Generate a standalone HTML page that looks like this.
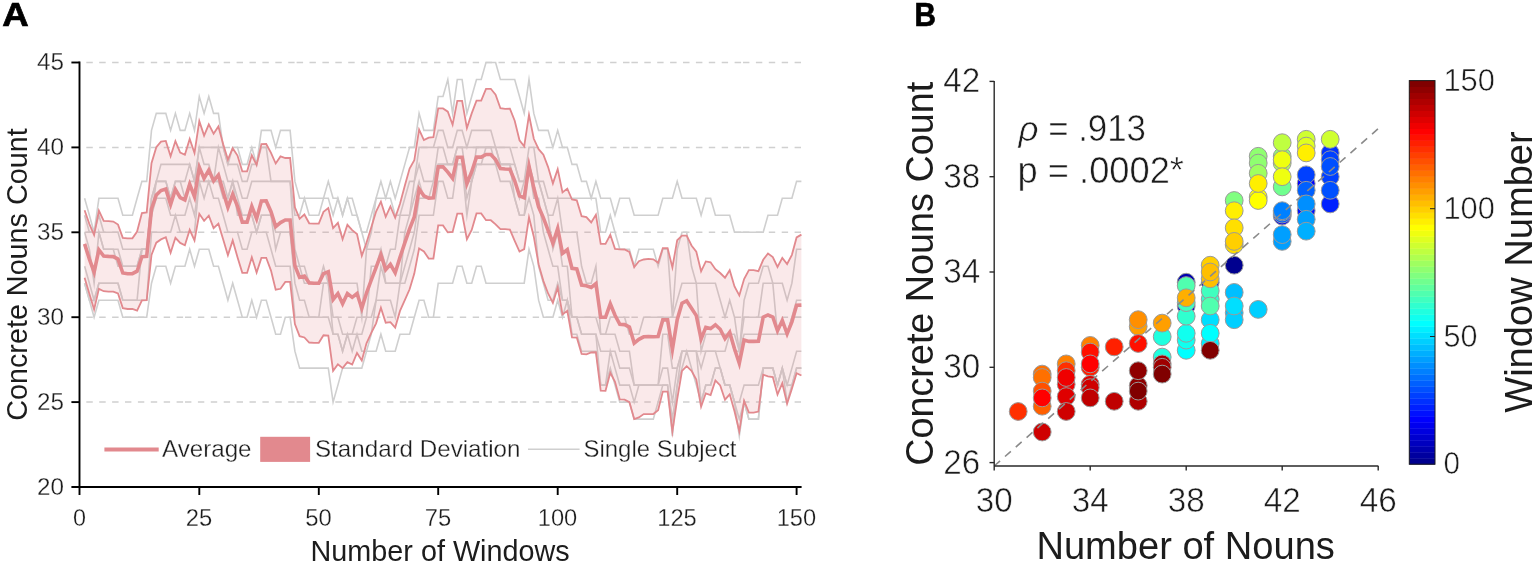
<!DOCTYPE html>
<html lang="en"><head><meta charset="utf-8"><title>Concrete Nouns Count</title>
<style>html,body{margin:0;padding:0;background:#fff}body{width:1534px;height:565px;overflow:hidden}svg{display:block}text{font-family:"Liberation Sans",Arial,sans-serif;fill:#1c1c1c;stroke:#fff;stroke-width:0.55px}.s{stroke-width:0.28px}.l{stroke:none}.b{font-weight:bold;fill:#000;stroke:#000;stroke-width:0.7px}</style>
</head><body>
<svg width="1534" height="565" viewBox="0 0 1534 565">
<rect width="1534" height="565" fill="#fff"/>
<g id="panelA">
<path d="M86.3 62.5H92.8M99.2 62.5H105.7M112.1 62.5H118.6M125 62.5H131.4M137.9 62.5H144.3M150.8 62.5H157.2M163.7 62.5H170.1M176.6 62.5H183.1M185 62.5H191.4M197.9 62.5H204.3M210.8 62.5H217.2M223.7 62.5H230.1M236.6 62.5H243M249.5 62.5H255.9M262.4 62.5H268.8M275.3 62.5H281.8M288.2 62.5H294.6M296.6 62.5H303.1M309.5 62.5H315.9M322.4 62.5H328.9M335.3 62.5H341.8M348.2 62.5H354.7M361.1 62.5H367.6M374 62.5H380.4M386.9 62.5H393.4M399.8 62.5H406.2M408.2 62.5H414.6M421.1 62.5H427.5M434 62.5H440.4M446.9 62.5H453.3M459.8 62.5H466.2M472.7 62.5H479.1M485.6 62.5H492M498.5 62.5H504.9M511.4 62.5H517.8M519.8 62.5H526.2M532.7 62.5H539.1M545.6 62.5H552M558.5 62.5H565M571.4 62.5H577.9M584.3 62.5H590.8M597.2 62.5H603.6M610.1 62.5H616.5M623 62.5H629.5M631.4 62.5H637.9M644.3 62.5H650.8M657.2 62.5H663.6M670.1 62.5H676.6M683 62.5H689.5M695.9 62.5H702.4M708.8 62.5H715.2M721.7 62.5H728.1M734.6 62.5H741.1M743 62.5H749.4M755.9 62.5H762.3M768.8 62.5H775.2M781.7 62.5H788.1M794.6 62.5H801" fill="none" stroke="#d0d0d0" stroke-width="1.5"/>
<path d="M86.3 147.4H92.8M99.2 147.4H105.7M112.1 147.4H118.6M125 147.4H131.4M137.9 147.4H144.3M150.8 147.4H157.2M163.7 147.4H170.1M176.6 147.4H183.1M185 147.4H191.4M197.9 147.4H204.3M210.8 147.4H217.2M223.7 147.4H230.1M236.6 147.4H243M249.5 147.4H255.9M262.4 147.4H268.8M275.3 147.4H281.8M288.2 147.4H294.6M296.6 147.4H303.1M309.5 147.4H315.9M322.4 147.4H328.9M335.3 147.4H341.8M348.2 147.4H354.7M361.1 147.4H367.6M374 147.4H380.4M386.9 147.4H393.4M399.8 147.4H406.2M408.2 147.4H414.6M421.1 147.4H427.5M434 147.4H440.4M446.9 147.4H453.3M459.8 147.4H466.2M472.7 147.4H479.1M485.6 147.4H492M498.5 147.4H504.9M511.4 147.4H517.8M519.8 147.4H526.2M532.7 147.4H539.1M545.6 147.4H552M558.5 147.4H565M571.4 147.4H577.9M584.3 147.4H590.8M597.2 147.4H603.6M610.1 147.4H616.5M623 147.4H629.5M631.4 147.4H637.9M644.3 147.4H650.8M657.2 147.4H663.6M670.1 147.4H676.6M683 147.4H689.5M695.9 147.4H702.4M708.8 147.4H715.2M721.7 147.4H728.1M734.6 147.4H741.1M743 147.4H749.4M755.9 147.4H762.3M768.8 147.4H775.2M781.7 147.4H788.1M794.6 147.4H801" fill="none" stroke="#d0d0d0" stroke-width="1.5"/>
<path d="M86.3 232.3H92.8M99.2 232.3H105.7M112.1 232.3H118.6M125 232.3H131.4M137.9 232.3H144.3M150.8 232.3H157.2M163.7 232.3H170.1M176.6 232.3H183.1M185 232.3H191.4M197.9 232.3H204.3M210.8 232.3H217.2M223.7 232.3H230.1M236.6 232.3H243M249.5 232.3H255.9M262.4 232.3H268.8M275.3 232.3H281.8M288.2 232.3H294.6M296.6 232.3H303.1M309.5 232.3H315.9M322.4 232.3H328.9M335.3 232.3H341.8M348.2 232.3H354.7M361.1 232.3H367.6M374 232.3H380.4M386.9 232.3H393.4M399.8 232.3H406.2M408.2 232.3H414.6M421.1 232.3H427.5M434 232.3H440.4M446.9 232.3H453.3M459.8 232.3H466.2M472.7 232.3H479.1M485.6 232.3H492M498.5 232.3H504.9M511.4 232.3H517.8M519.8 232.3H526.2M532.7 232.3H539.1M545.6 232.3H552M558.5 232.3H565M571.4 232.3H577.9M584.3 232.3H590.8M597.2 232.3H603.6M610.1 232.3H616.5M623 232.3H629.5M631.4 232.3H637.9M644.3 232.3H650.8M657.2 232.3H663.6M670.1 232.3H676.6M683 232.3H689.5M695.9 232.3H702.4M708.8 232.3H715.2M721.7 232.3H728.1M734.6 232.3H741.1M743 232.3H749.4M755.9 232.3H762.3M768.8 232.3H775.2M781.7 232.3H788.1M794.6 232.3H801" fill="none" stroke="#d0d0d0" stroke-width="1.5"/>
<path d="M86.3 317.2H92.8M99.2 317.2H105.7M112.1 317.2H118.6M125 317.2H131.4M137.9 317.2H144.3M150.8 317.2H157.2M163.7 317.2H170.1M176.6 317.2H183.1M185 317.2H191.4M197.9 317.2H204.3M210.8 317.2H217.2M223.7 317.2H230.1M236.6 317.2H243M249.5 317.2H255.9M262.4 317.2H268.8M275.3 317.2H281.8M288.2 317.2H294.6M296.6 317.2H303.1M309.5 317.2H315.9M322.4 317.2H328.9M335.3 317.2H341.8M348.2 317.2H354.7M361.1 317.2H367.6M374 317.2H380.4M386.9 317.2H393.4M399.8 317.2H406.2M408.2 317.2H414.6M421.1 317.2H427.5M434 317.2H440.4M446.9 317.2H453.3M459.8 317.2H466.2M472.7 317.2H479.1M485.6 317.2H492M498.5 317.2H504.9M511.4 317.2H517.8M519.8 317.2H526.2M532.7 317.2H539.1M545.6 317.2H552M558.5 317.2H565M571.4 317.2H577.9M584.3 317.2H590.8M597.2 317.2H603.6M610.1 317.2H616.5M623 317.2H629.5M631.4 317.2H637.9M644.3 317.2H650.8M657.2 317.2H663.6M670.1 317.2H676.6M683 317.2H689.5M695.9 317.2H702.4M708.8 317.2H715.2M721.7 317.2H728.1M734.6 317.2H741.1M743 317.2H749.4M755.9 317.2H762.3M768.8 317.2H775.2M781.7 317.2H788.1M794.6 317.2H801" fill="none" stroke="#d0d0d0" stroke-width="1.5"/>
<path d="M86.3 402.1H92.8M99.2 402.1H105.7M112.1 402.1H118.6M125 402.1H131.4M137.9 402.1H144.3M150.8 402.1H157.2M163.7 402.1H170.1M176.6 402.1H183.1M185 402.1H191.4M197.9 402.1H204.3M210.8 402.1H217.2M223.7 402.1H230.1M236.6 402.1H243M249.5 402.1H255.9M262.4 402.1H268.8M275.3 402.1H281.8M288.2 402.1H294.6M296.6 402.1H303.1M309.5 402.1H315.9M322.4 402.1H328.9M335.3 402.1H341.8M348.2 402.1H354.7M361.1 402.1H367.6M374 402.1H380.4M386.9 402.1H393.4M399.8 402.1H406.2M408.2 402.1H414.6M421.1 402.1H427.5M434 402.1H440.4M446.9 402.1H453.3M459.8 402.1H466.2M472.7 402.1H479.1M485.6 402.1H492M498.5 402.1H504.9M511.4 402.1H517.8M519.8 402.1H526.2M532.7 402.1H539.1M545.6 402.1H552M558.5 402.1H565M571.4 402.1H577.9M584.3 402.1H590.8M597.2 402.1H603.6M610.1 402.1H616.5M623 402.1H629.5M631.4 402.1H637.9M644.3 402.1H650.8M657.2 402.1H663.6M670.1 402.1H676.6M683 402.1H689.5M695.9 402.1H702.4M708.8 402.1H715.2M721.7 402.1H728.1M734.6 402.1H741.1M743 402.1H749.4M755.9 402.1H762.3M768.8 402.1H775.2M781.7 402.1H788.1M794.6 402.1H801" fill="none" stroke="#d0d0d0" stroke-width="1.5"/>
<path d="M84.6 283.2 L89.4 300.2 L94.1 317.2 L98.9 300.2 L103.7 300.2 L108.5 300.2 L113.3 300.2 L118 300.2 L122.8 317.2 L127.6 317.2 L132.4 317.2 L137.1 317.2 L141.9 317.2 L146.7 317.2 L151.5 283.2 L156.3 266.3 L161 266.3 L165.8 266.3 L170.6 283.2 L175.4 266.3 L180.2 266.3 L184.9 266.3 L189.7 249.3 L194.5 266.3 L199.3 249.3 L204.1 249.3 L208.8 249.3 L213.6 266.3 L218.4 266.3 L223.2 283.2 L227.9 300.2 L232.7 283.2 L237.5 300.2 L242.3 317.2 L247.1 317.2 L251.8 300.2 L256.6 317.2 L261.4 300.2 L266.2 300.2 L271 317.2 L275.7 334.2 L280.5 334.2 L285.3 317.2 L290.1 317.2 L294.9 351.2 L299.6 368.1 L304.4 368.1 L309.2 368.1 L314 368.1 L318.8 368.1 L323.5 368.1 L328.3 368.1 L333.1 402.1 L337.9 385.1 L342.6 368.1 L347.4 368.1 L352.2 368.1 L357 368.1 L361.8 368.1 L366.5 351.2 L371.3 351.2 L376.1 351.2 L380.9 334.2 L385.7 351.2 L390.4 351.2 L395.2 351.2 L400 334.2 L404.8 334.2 L409.6 334.2 L414.3 317.2 L419.1 300.2 L423.9 300.2 L428.7 317.2 L433.4 317.2 L438.2 283.2 L443 283.2 L447.8 283.2 L452.6 283.2 L457.3 266.3 L462.1 266.3 L466.9 283.2 L471.7 283.2 L476.5 266.3 L481.2 266.3 L486 283.2 L490.8 283.2 L495.6 283.2 L500.4 283.2 L505.1 283.2 L509.9 283.2 L514.7 283.2 L519.5 283.2 L524.2 283.2 L529 249.3 L533.8 266.3 L538.6 300.2 L543.4 317.2 L548.1 317.2 L552.9 317.2 L557.7 300.2 L562.5 317.2 L567.3 300.2 L572 334.2 L576.8 334.2 L581.6 351.2 L586.4 351.2 L591.2 351.2 L595.9 351.2 L600.7 385.1 L605.5 385.1 L610.3 368.1 L615 385.1 L619.8 402.1 L624.6 402.1 L629.4 402.1 L634.2 419.1 L638.9 419.1 L643.7 419.1 L648.5 419.1 L653.3 419.1 L658.1 402.1 L662.8 385.1 L667.6 385.1 L672.4 436.1 L677.2 385.1 L682 368.1 L686.7 351.2 L691.5 368.1 L696.3 385.1 L701.1 402.1 L705.8 385.1 L710.6 385.1 L715.4 368.1 L720.2 368.1 L725 385.1 L729.7 385.1 L734.5 402.1 L739.3 436.1 L744.1 402.1 L748.9 419.1 L753.6 419.1 L758.4 419.1 L763.2 368.1 L768 368.1 L772.8 368.1 L777.5 385.1 L782.3 368.1 L787.1 402.1 L791.9 385.1 L796.6 368.1 L801.4 368.1" fill="none" stroke="#cfcfcf" stroke-width="1.6" stroke-linejoin="miter" stroke-miterlimit="10"/>
<path d="M84.6 283.2 L89.4 300.2 L94.1 300.2 L98.9 283.2 L103.7 283.2 L108.5 283.2 L113.3 283.2 L118 283.2 L122.8 300.2 L127.6 300.2 L132.4 300.2 L137.1 300.2 L141.9 300.2 L146.7 300.2 L151.5 232.3 L156.3 232.3 L161 232.3 L165.8 232.3 L170.6 232.3 L175.4 215.3 L180.2 232.3 L184.9 232.3 L189.7 232.3 L194.5 232.3 L199.3 181.4 L204.1 198.3 L208.8 181.4 L213.6 198.3 L218.4 198.3 L223.2 215.3 L227.9 232.3 L232.7 232.3 L237.5 232.3 L242.3 249.3 L247.1 249.3 L251.8 232.3 L256.6 232.3 L261.4 232.3 L266.2 232.3 L271 249.3 L275.7 266.3 L280.5 266.3 L285.3 266.3 L290.1 266.3 L294.9 317.2 L299.6 317.2 L304.4 317.2 L309.2 317.2 L314 317.2 L318.8 317.2 L323.5 317.2 L328.3 317.2 L333.1 334.2 L337.9 334.2 L342.6 351.2 L347.4 334.2 L352.2 351.2 L357 334.2 L361.8 351.2 L366.5 351.2 L371.3 334.2 L376.1 300.2 L380.9 300.2 L385.7 300.2 L390.4 300.2 L395.2 317.2 L400 283.2 L404.8 283.2 L409.6 266.3 L414.3 249.3 L419.1 215.3 L423.9 215.3 L428.7 215.3 L433.4 215.3 L438.2 181.4 L443 181.4 L447.8 198.3 L452.6 198.3 L457.3 164.4 L462.1 164.4 L466.9 215.3 L471.7 181.4 L476.5 164.4 L481.2 164.4 L486 164.4 L490.8 164.4 L495.6 164.4 L500.4 181.4 L505.1 181.4 L509.9 181.4 L514.7 198.3 L519.5 215.3 L524.2 215.3 L529 198.3 L533.8 215.3 L538.6 266.3 L543.4 283.2 L548.1 300.2 L552.9 300.2 L557.7 283.2 L562.5 300.2 L567.3 300.2 L572 317.2 L576.8 317.2 L581.6 334.2 L586.4 334.2 L591.2 334.2 L595.9 334.2 L600.7 385.1 L605.5 385.1 L610.3 351.2 L615 368.1 L619.8 385.1 L624.6 385.1 L629.4 385.1 L634.2 402.1 L638.9 385.1 L643.7 385.1 L648.5 385.1 L653.3 385.1 L658.1 385.1 L662.8 385.1 L667.6 385.1 L672.4 419.1 L677.2 385.1 L682 351.2 L686.7 351.2 L691.5 351.2 L696.3 351.2 L701.1 402.1 L705.8 385.1 L710.6 385.1 L715.4 368.1 L720.2 368.1 L725 385.1 L729.7 385.1 L734.5 402.1 L739.3 419.1 L744.1 402.1 L748.9 419.1 L753.6 419.1 L758.4 419.1 L763.2 368.1 L768 368.1 L772.8 368.1 L777.5 385.1 L782.3 368.1 L787.1 385.1 L791.9 385.1 L796.6 368.1 L801.4 368.1" fill="none" stroke="#cfcfcf" stroke-width="1.6" stroke-linejoin="miter" stroke-miterlimit="10"/>
<path d="M84.6 266.3 L89.4 283.2 L94.1 300.2 L98.9 283.2 L103.7 283.2 L108.5 283.2 L113.3 283.2 L118 283.2 L122.8 300.2 L127.6 300.2 L132.4 300.2 L137.1 300.2 L141.9 249.3 L146.7 249.3 L151.5 215.3 L156.3 198.3 L161 198.3 L165.8 198.3 L170.6 215.3 L175.4 215.3 L180.2 215.3 L184.9 215.3 L189.7 198.3 L194.5 215.3 L199.3 181.4 L204.1 181.4 L208.8 181.4 L213.6 181.4 L218.4 181.4 L223.2 198.3 L227.9 198.3 L232.7 181.4 L237.5 215.3 L242.3 215.3 L247.1 215.3 L251.8 215.3 L256.6 232.3 L261.4 215.3 L266.2 215.3 L271 215.3 L275.7 249.3 L280.5 232.3 L285.3 232.3 L290.1 232.3 L294.9 283.2 L299.6 300.2 L304.4 300.2 L309.2 317.2 L314 317.2 L318.8 317.2 L323.5 283.2 L328.3 283.2 L333.1 334.2 L337.9 334.2 L342.6 351.2 L347.4 334.2 L352.2 334.2 L357 334.2 L361.8 334.2 L366.5 317.2 L371.3 317.2 L376.1 300.2 L380.9 266.3 L385.7 283.2 L390.4 283.2 L395.2 283.2 L400 283.2 L404.8 266.3 L409.6 249.3 L414.3 232.3 L419.1 198.3 L423.9 198.3 L428.7 198.3 L433.4 198.3 L438.2 164.4 L443 164.4 L447.8 164.4 L452.6 164.4 L457.3 164.4 L462.1 164.4 L466.9 198.3 L471.7 181.4 L476.5 164.4 L481.2 164.4 L486 147.4 L490.8 147.4 L495.6 164.4 L500.4 164.4 L505.1 164.4 L509.9 164.4 L514.7 198.3 L519.5 215.3 L524.2 215.3 L529 164.4 L533.8 198.3 L538.6 198.3 L543.4 232.3 L548.1 249.3 L552.9 266.3 L557.7 266.3 L562.5 300.2 L567.3 300.2 L572 317.2 L576.8 317.2 L581.6 334.2 L586.4 334.2 L591.2 334.2 L595.9 334.2 L600.7 351.2 L605.5 351.2 L610.3 351.2 L615 351.2 L619.8 368.1 L624.6 368.1 L629.4 368.1 L634.2 385.1 L638.9 385.1 L643.7 385.1 L648.5 385.1 L653.3 385.1 L658.1 385.1 L662.8 368.1 L667.6 368.1 L672.4 402.1 L677.2 368.1 L682 351.2 L686.7 351.2 L691.5 351.2 L696.3 351.2 L701.1 368.1 L705.8 351.2 L710.6 351.2 L715.4 351.2 L720.2 368.1 L725 385.1 L729.7 385.1 L734.5 402.1 L739.3 402.1 L744.1 385.1 L748.9 385.1 L753.6 385.1 L758.4 385.1 L763.2 368.1 L768 368.1 L772.8 368.1 L777.5 385.1 L782.3 368.1 L787.1 385.1 L791.9 368.1 L796.6 351.2 L801.4 351.2" fill="none" stroke="#cfcfcf" stroke-width="1.6" stroke-linejoin="miter" stroke-miterlimit="10"/>
<path d="M84.6 232.3 L89.4 249.3 L94.1 283.2 L98.9 232.3 L103.7 249.3 L108.5 249.3 L113.3 249.3 L118 266.3 L122.8 266.3 L127.6 266.3 L132.4 266.3 L137.1 266.3 L141.9 249.3 L146.7 249.3 L151.5 215.3 L156.3 181.4 L161 181.4 L165.8 181.4 L170.6 198.3 L175.4 181.4 L180.2 181.4 L184.9 198.3 L189.7 181.4 L194.5 181.4 L199.3 164.4 L204.1 181.4 L208.8 181.4 L213.6 181.4 L218.4 181.4 L223.2 181.4 L227.9 198.3 L232.7 181.4 L237.5 198.3 L242.3 215.3 L247.1 215.3 L251.8 215.3 L256.6 232.3 L261.4 215.3 L266.2 215.3 L271 215.3 L275.7 232.3 L280.5 232.3 L285.3 232.3 L290.1 232.3 L294.9 266.3 L299.6 266.3 L304.4 283.2 L309.2 283.2 L314 283.2 L318.8 283.2 L323.5 283.2 L328.3 283.2 L333.1 317.2 L337.9 317.2 L342.6 334.2 L347.4 334.2 L352.2 334.2 L357 317.2 L361.8 317.2 L366.5 317.2 L371.3 266.3 L376.1 266.3 L380.9 249.3 L385.7 283.2 L390.4 283.2 L395.2 283.2 L400 283.2 L404.8 232.3 L409.6 215.3 L414.3 198.3 L419.1 181.4 L423.9 198.3 L428.7 198.3 L433.4 181.4 L438.2 164.4 L443 164.4 L447.8 164.4 L452.6 164.4 L457.3 147.4 L462.1 147.4 L466.9 181.4 L471.7 181.4 L476.5 147.4 L481.2 147.4 L486 147.4 L490.8 147.4 L495.6 147.4 L500.4 164.4 L505.1 164.4 L509.9 164.4 L514.7 181.4 L519.5 198.3 L524.2 181.4 L529 164.4 L533.8 181.4 L538.6 181.4 L543.4 198.3 L548.1 215.3 L552.9 249.3 L557.7 232.3 L562.5 266.3 L567.3 266.3 L572 317.2 L576.8 317.2 L581.6 317.2 L586.4 317.2 L591.2 317.2 L595.9 317.2 L600.7 334.2 L605.5 334.2 L610.3 334.2 L615 334.2 L619.8 351.2 L624.6 351.2 L629.4 351.2 L634.2 385.1 L638.9 385.1 L643.7 385.1 L648.5 385.1 L653.3 385.1 L658.1 385.1 L662.8 334.2 L667.6 334.2 L672.4 368.1 L677.2 368.1 L682 351.2 L686.7 351.2 L691.5 351.2 L696.3 351.2 L701.1 351.2 L705.8 351.2 L710.6 351.2 L715.4 351.2 L720.2 351.2 L725 351.2 L729.7 334.2 L734.5 351.2 L739.3 351.2 L744.1 334.2 L748.9 334.2 L753.6 334.2 L758.4 334.2 L763.2 334.2 L768 334.2 L772.8 334.2 L777.5 334.2 L782.3 334.2 L787.1 334.2 L791.9 317.2 L796.6 317.2 L801.4 317.2" fill="none" stroke="#cfcfcf" stroke-width="1.6" stroke-linejoin="miter" stroke-miterlimit="10"/>
<path d="M84.6 232.3 L89.4 232.3 L94.1 232.3 L98.9 232.3 L103.7 249.3 L108.5 249.3 L113.3 249.3 L118 249.3 L122.8 266.3 L127.6 266.3 L132.4 266.3 L137.1 266.3 L141.9 249.3 L146.7 249.3 L151.5 198.3 L156.3 181.4 L161 181.4 L165.8 181.4 L170.6 198.3 L175.4 181.4 L180.2 181.4 L184.9 181.4 L189.7 164.4 L194.5 181.4 L199.3 147.4 L204.1 164.4 L208.8 164.4 L213.6 181.4 L218.4 147.4 L223.2 164.4 L227.9 181.4 L232.7 181.4 L237.5 181.4 L242.3 198.3 L247.1 198.3 L251.8 181.4 L256.6 181.4 L261.4 181.4 L266.2 181.4 L271 181.4 L275.7 181.4 L280.5 181.4 L285.3 181.4 L290.1 181.4 L294.9 249.3 L299.6 266.3 L304.4 266.3 L309.2 283.2 L314 283.2 L318.8 283.2 L323.5 266.3 L328.3 283.2 L333.1 283.2 L337.9 283.2 L342.6 283.2 L347.4 283.2 L352.2 283.2 L357 283.2 L361.8 317.2 L366.5 249.3 L371.3 249.3 L376.1 249.3 L380.9 249.3 L385.7 266.3 L390.4 249.3 L395.2 249.3 L400 215.3 L404.8 215.3 L409.6 215.3 L414.3 181.4 L419.1 164.4 L423.9 181.4 L428.7 181.4 L433.4 181.4 L438.2 147.4 L443 147.4 L447.8 164.4 L452.6 164.4 L457.3 147.4 L462.1 147.4 L466.9 147.4 L471.7 147.4 L476.5 147.4 L481.2 147.4 L486 147.4 L490.8 147.4 L495.6 147.4 L500.4 164.4 L505.1 164.4 L509.9 164.4 L514.7 164.4 L519.5 181.4 L524.2 181.4 L529 164.4 L533.8 181.4 L538.6 181.4 L543.4 198.3 L548.1 215.3 L552.9 215.3 L557.7 198.3 L562.5 232.3 L567.3 232.3 L572 232.3 L576.8 232.3 L581.6 266.3 L586.4 283.2 L591.2 283.2 L595.9 266.3 L600.7 334.2 L605.5 334.2 L610.3 317.2 L615 317.2 L619.8 317.2 L624.6 317.2 L629.4 334.2 L634.2 334.2 L638.9 334.2 L643.7 317.2 L648.5 317.2 L653.3 317.2 L658.1 317.2 L662.8 317.2 L667.6 317.2 L672.4 317.2 L677.2 300.2 L682 283.2 L686.7 283.2 L691.5 283.2 L696.3 283.2 L701.1 351.2 L705.8 334.2 L710.6 334.2 L715.4 334.2 L720.2 334.2 L725 334.2 L729.7 334.2 L734.5 334.2 L739.3 351.2 L744.1 317.2 L748.9 317.2 L753.6 317.2 L758.4 317.2 L763.2 283.2 L768 283.2 L772.8 283.2 L777.5 334.2 L782.3 334.2 L787.1 334.2 L791.9 317.2 L796.6 300.2 L801.4 300.2" fill="none" stroke="#cfcfcf" stroke-width="1.6" stroke-linejoin="miter" stroke-miterlimit="10"/>
<path d="M84.6 215.3 L89.4 232.3 L94.1 232.3 L98.9 215.3 L103.7 232.3 L108.5 232.3 L113.3 232.3 L118 232.3 L122.8 249.3 L127.6 249.3 L132.4 249.3 L137.1 249.3 L141.9 249.3 L146.7 249.3 L151.5 198.3 L156.3 181.4 L161 164.4 L165.8 164.4 L170.6 164.4 L175.4 164.4 L180.2 164.4 L184.9 164.4 L189.7 164.4 L194.5 181.4 L199.3 147.4 L204.1 147.4 L208.8 147.4 L213.6 147.4 L218.4 147.4 L223.2 147.4 L227.9 164.4 L232.7 164.4 L237.5 164.4 L242.3 181.4 L247.1 181.4 L251.8 164.4 L256.6 164.4 L261.4 147.4 L266.2 147.4 L271 181.4 L275.7 181.4 L280.5 181.4 L285.3 181.4 L290.1 181.4 L294.9 215.3 L299.6 215.3 L304.4 198.3 L309.2 215.3 L314 215.3 L318.8 215.3 L323.5 198.3 L328.3 198.3 L333.1 215.3 L337.9 198.3 L342.6 215.3 L347.4 198.3 L352.2 215.3 L357 215.3 L361.8 232.3 L366.5 249.3 L371.3 232.3 L376.1 198.3 L380.9 198.3 L385.7 198.3 L390.4 198.3 L395.2 215.3 L400 215.3 L404.8 198.3 L409.6 181.4 L414.3 181.4 L419.1 147.4 L423.9 147.4 L428.7 147.4 L433.4 147.4 L438.2 130.4 L443 130.4 L447.8 147.4 L452.6 147.4 L457.3 130.4 L462.1 130.4 L466.9 147.4 L471.7 130.4 L476.5 130.4 L481.2 130.4 L486 130.4 L490.8 130.4 L495.6 147.4 L500.4 147.4 L505.1 147.4 L509.9 147.4 L514.7 164.4 L519.5 181.4 L524.2 181.4 L529 147.4 L533.8 147.4 L538.6 181.4 L543.4 181.4 L548.1 198.3 L552.9 198.3 L557.7 198.3 L562.5 198.3 L567.3 198.3 L572 198.3 L576.8 198.3 L581.6 198.3 L586.4 198.3 L591.2 198.3 L595.9 198.3 L600.7 232.3 L605.5 232.3 L610.3 215.3 L615 232.3 L619.8 249.3 L624.6 249.3 L629.4 249.3 L634.2 266.3 L638.9 249.3 L643.7 249.3 L648.5 249.3 L653.3 249.3 L658.1 266.3 L662.8 249.3 L667.6 249.3 L672.4 317.2 L677.2 249.3 L682 232.3 L686.7 232.3 L691.5 266.3 L696.3 283.2 L701.1 283.2 L705.8 283.2 L710.6 283.2 L715.4 283.2 L720.2 300.2 L725 317.2 L729.7 300.2 L734.5 317.2 L739.3 351.2 L744.1 300.2 L748.9 283.2 L753.6 283.2 L758.4 283.2 L763.2 266.3 L768 266.3 L772.8 283.2 L777.5 283.2 L782.3 283.2 L787.1 300.2 L791.9 283.2 L796.6 249.3 L801.4 249.3" fill="none" stroke="#cfcfcf" stroke-width="1.6" stroke-linejoin="miter" stroke-miterlimit="10"/>
<path d="M84.6 198.3 L89.4 215.3 L94.1 232.3 L98.9 198.3 L103.7 198.3 L108.5 198.3 L113.3 198.3 L118 198.3 L122.8 215.3 L127.6 215.3 L132.4 215.3 L137.1 198.3 L141.9 181.4 L146.7 181.4 L151.5 130.4 L156.3 113.4 L161 113.4 L165.8 113.4 L170.6 130.4 L175.4 113.4 L180.2 130.4 L184.9 130.4 L189.7 113.4 L194.5 130.4 L199.3 96.5 L204.1 113.4 L208.8 96.5 L213.6 113.4 L218.4 113.4 L223.2 147.4 L227.9 164.4 L232.7 147.4 L237.5 147.4 L242.3 164.4 L247.1 164.4 L251.8 147.4 L256.6 164.4 L261.4 130.4 L266.2 130.4 L271 130.4 L275.7 147.4 L280.5 130.4 L285.3 130.4 L290.1 130.4 L294.9 181.4 L299.6 198.3 L304.4 198.3 L309.2 198.3 L314 198.3 L318.8 198.3 L323.5 198.3 L328.3 181.4 L333.1 198.3 L337.9 198.3 L342.6 215.3 L347.4 198.3 L352.2 198.3 L357 215.3 L361.8 232.3 L366.5 232.3 L371.3 215.3 L376.1 198.3 L380.9 181.4 L385.7 198.3 L390.4 181.4 L395.2 198.3 L400 181.4 L404.8 164.4 L409.6 147.4 L414.3 147.4 L419.1 113.4 L423.9 130.4 L428.7 130.4 L433.4 130.4 L438.2 96.5 L443 96.5 L447.8 79.5 L452.6 113.4 L457.3 79.5 L462.1 79.5 L466.9 113.4 L471.7 96.5 L476.5 79.5 L481.2 79.5 L486 62.5 L490.8 62.5 L495.6 62.5 L500.4 79.5 L505.1 79.5 L509.9 79.5 L514.7 79.5 L519.5 96.5 L524.2 113.4 L529 79.5 L533.8 113.4 L538.6 130.4 L543.4 130.4 L548.1 130.4 L552.9 147.4 L557.7 130.4 L562.5 147.4 L567.3 147.4 L572 164.4 L576.8 164.4 L581.6 181.4 L586.4 181.4 L591.2 198.3 L595.9 181.4 L600.7 198.3 L605.5 198.3 L610.3 198.3 L615 215.3 L619.8 198.3 L624.6 198.3 L629.4 198.3 L634.2 215.3 L638.9 215.3 L643.7 215.3 L648.5 215.3 L653.3 215.3 L658.1 215.3 L662.8 198.3 L667.6 198.3 L672.4 198.3 L677.2 181.4 L682 198.3 L686.7 198.3 L691.5 198.3 L696.3 198.3 L701.1 215.3 L705.8 198.3 L710.6 198.3 L715.4 215.3 L720.2 215.3 L725 215.3 L729.7 215.3 L734.5 232.3 L739.3 232.3 L744.1 232.3 L748.9 232.3 L753.6 232.3 L758.4 232.3 L763.2 232.3 L768 215.3 L772.8 215.3 L777.5 215.3 L782.3 198.3 L787.1 198.3 L791.9 198.3 L796.6 181.4 L801.4 181.4" fill="none" stroke="#cfcfcf" stroke-width="1.6" stroke-linejoin="miter" stroke-miterlimit="10"/>
<path d="M84.6 210.2 L89.4 224.1 L94.1 234.9 L98.9 210.7 L103.7 220.8 L108.5 221.2 L113.3 221.6 L118 224.6 L122.8 237.9 L127.6 238.3 L132.4 238.3 L137.1 231.6 L141.9 213.1 L146.7 212.4 L151.5 163.2 L156.3 147.3 L161 141.6 L165.8 140.9 L170.6 156.2 L175.4 141.1 L180.2 152.5 L184.9 154.7 L189.7 138.9 L194.5 153 L199.3 121.1 L204.1 135.6 L208.8 124.4 L213.6 133.7 L218.4 126.4 L223.2 144.2 L227.9 159.6 L232.7 148.2 L237.5 155.6 L242.3 171.3 L247.1 171.3 L251.8 155.3 L256.6 164.9 L261.4 144.1 L266.2 144 L271 152.9 L275.7 163.5 L280.5 156.4 L285.3 158 L290.1 158 L294.9 207.4 L299.6 218.7 L304.4 214.5 L309.2 223.3 L314 223.6 L318.8 223.6 L323.5 211.9 L328.3 208 L333.1 228.1 L337.9 222.9 L342.6 239.3 L347.4 224.8 L352.2 230.1 L357 234 L361.8 255.8 L366.5 242.7 L371.3 227.2 L376.1 211.5 L380.9 201.7 L385.7 216.8 L390.4 206.4 L395.2 217.8 L400 203.8 L404.8 185.7 L409.6 168.5 L414.3 160.3 L419.1 129.6 L423.9 140.1 L428.7 137.6 L433.4 137.1 L438.2 108.4 L443 108.4 L447.8 111.7 L452.6 124.7 L457.3 100.8 L462.1 100.8 L466.9 128.1 L471.7 113.4 L476.5 100.7 L481.2 100.7 L486 88.8 L490.8 88.8 L495.6 94.7 L500.4 108.2 L505.1 108.8 L509.9 108.7 L514.7 120.7 L519.5 140.3 L524.2 146.4 L529 114.9 L533.8 138.8 L538.6 149.2 L543.4 154.7 L548.1 167.1 L552.9 183.4 L557.7 169.1 L562.5 192.4 L567.3 188.6 L572 199.5 L576.8 200.4 L581.6 216.2 L586.4 217.1 L591.2 222.4 L595.9 214.8 L600.7 243.8 L605.5 243.9 L610.3 234.8 L615 248.9 L619.8 249.3 L624.6 249.5 L629.4 252 L634.2 267.1 L638.9 261.2 L643.7 259.5 L648.5 258.9 L653.3 259.3 L658.1 262.8 L662.8 248.1 L667.6 248.1 L672.4 267.4 L677.2 240.3 L682 235.6 L686.7 235.6 L691.5 245.5 L696.3 251.7 L701.1 271.3 L705.8 261.4 L710.6 262.3 L715.4 269.2 L720.2 273 L725 277.7 L729.7 270.2 L734.5 286.4 L739.3 295.4 L744.1 279.1 L748.9 270.1 L753.6 270.1 L758.4 271.1 L763.2 259.8 L768 253.5 L772.8 257.1 L777.5 267 L782.3 257.9 L787.1 264 L791.9 254.8 L796.6 237.4 L801.4 234.6 L801.4 375.5 L796.6 373.3 L791.9 388.8 L787.1 403.6 L782.3 383.2 L777.5 394.5 L772.8 377 L768 376.3 L763.2 374.6 L758.4 411.5 L753.6 412.7 L748.9 412.7 L744.1 400.9 L739.3 431.3 L734.5 411.2 L729.7 394.3 L725 399.7 L720.2 385.5 L715.4 380.4 L710.6 395 L705.8 393.3 L701.1 406.8 L696.3 379.5 L691.5 370.9 L686.7 366.2 L682 370.9 L677.2 399.2 L672.4 431.6 L667.6 391.6 L662.8 391.6 L658.1 410.3 L653.3 414 L648.5 414.1 L643.7 414.1 L638.9 417.4 L634.2 419 L629.4 402.2 L624.6 399.7 L619.8 399.5 L615 381.8 L610.3 372.8 L605.5 390.8 L600.7 390.7 L595.9 352.3 L591.2 352.5 L586.4 354.4 L581.6 354 L576.8 337.5 L572 337.3 L567.3 310.8 L562.5 314.4 L557.7 287.6 L552.9 302.9 L548.1 293.5 L543.4 281.1 L538.6 264.4 L533.8 236.7 L529 217.3 L524.2 249.1 L519.5 251.5 L514.7 240.8 L509.9 229.7 L505.1 229.2 L500.4 229.1 L495.6 224.3 L490.8 220.2 L486 220.2 L481.2 213.4 L476.5 213.4 L471.7 229.9 L466.9 239.2 L462.1 213.6 L457.3 213.6 L452.6 232 L447.8 232.4 L443 225.4 L438.2 225.4 L433.4 258.5 L428.7 258.6 L423.9 251.4 L419.1 248.5 L414.3 273.6 L409.6 289.3 L404.8 300.2 L400 310.9 L395.2 327.6 L390.4 322.1 L385.7 322.7 L380.9 307.7 L376.1 323.3 L371.3 332.8 L366.5 343.3 L361.8 360.6 L357 352.9 L352.2 364.6 L347.4 362.1 L342.6 368.1 L337.9 364.3 L333.1 370.9 L328.3 335.6 L323.5 335.3 L318.8 342.8 L314 342.8 L309.2 342.5 L304.4 337.5 L299.6 336.2 L294.9 324.1 L290.1 281.9 L285.3 281.9 L280.5 288.8 L275.7 289.7 L271 270.6 L266.2 257.8 L261.4 257.9 L256.6 272.5 L251.8 257.3 L247.1 272.9 L242.3 272.8 L237.5 257.2 L232.7 240.4 L227.9 255.2 L223.2 239.6 L218.4 223.7 L213.6 228.1 L208.8 215.7 L204.1 220.8 L199.3 213.8 L194.5 240.4 L189.7 229.8 L184.9 245.2 L180.2 242.9 L175.4 237.8 L170.6 252.8 L165.8 237.2 L161 239.4 L156.3 242.7 L151.5 254.9 L146.7 300.2 L141.9 300.4 L137.1 310.7 L132.4 309 L127.6 309 L122.8 308.1 L118 293.5 L113.3 291.6 L108.5 291.6 L103.7 291.2 L98.9 288.9 L94.1 309.5 L89.4 294 L84.6 277.7Z" fill="#e2898e" fill-opacity="0.185" stroke="none"/>
<path d="M84.6 210.2 L89.4 224.1 L94.1 234.9 L98.9 210.7 L103.7 220.8 L108.5 221.2 L113.3 221.6 L118 224.6 L122.8 237.9 L127.6 238.3 L132.4 238.3 L137.1 231.6 L141.9 213.1 L146.7 212.4 L151.5 163.2 L156.3 147.3 L161 141.6 L165.8 140.9 L170.6 156.2 L175.4 141.1 L180.2 152.5 L184.9 154.7 L189.7 138.9 L194.5 153 L199.3 121.1 L204.1 135.6 L208.8 124.4 L213.6 133.7 L218.4 126.4 L223.2 144.2 L227.9 159.6 L232.7 148.2 L237.5 155.6 L242.3 171.3 L247.1 171.3 L251.8 155.3 L256.6 164.9 L261.4 144.1 L266.2 144 L271 152.9 L275.7 163.5 L280.5 156.4 L285.3 158 L290.1 158 L294.9 207.4 L299.6 218.7 L304.4 214.5 L309.2 223.3 L314 223.6 L318.8 223.6 L323.5 211.9 L328.3 208 L333.1 228.1 L337.9 222.9 L342.6 239.3 L347.4 224.8 L352.2 230.1 L357 234 L361.8 255.8 L366.5 242.7 L371.3 227.2 L376.1 211.5 L380.9 201.7 L385.7 216.8 L390.4 206.4 L395.2 217.8 L400 203.8 L404.8 185.7 L409.6 168.5 L414.3 160.3 L419.1 129.6 L423.9 140.1 L428.7 137.6 L433.4 137.1 L438.2 108.4 L443 108.4 L447.8 111.7 L452.6 124.7 L457.3 100.8 L462.1 100.8 L466.9 128.1 L471.7 113.4 L476.5 100.7 L481.2 100.7 L486 88.8 L490.8 88.8 L495.6 94.7 L500.4 108.2 L505.1 108.8 L509.9 108.7 L514.7 120.7 L519.5 140.3 L524.2 146.4 L529 114.9 L533.8 138.8 L538.6 149.2 L543.4 154.7 L548.1 167.1 L552.9 183.4 L557.7 169.1 L562.5 192.4 L567.3 188.6 L572 199.5 L576.8 200.4 L581.6 216.2 L586.4 217.1 L591.2 222.4 L595.9 214.8 L600.7 243.8 L605.5 243.9 L610.3 234.8 L615 248.9 L619.8 249.3 L624.6 249.5 L629.4 252 L634.2 267.1 L638.9 261.2 L643.7 259.5 L648.5 258.9 L653.3 259.3 L658.1 262.8 L662.8 248.1 L667.6 248.1 L672.4 267.4 L677.2 240.3 L682 235.6 L686.7 235.6 L691.5 245.5 L696.3 251.7 L701.1 271.3 L705.8 261.4 L710.6 262.3 L715.4 269.2 L720.2 273 L725 277.7 L729.7 270.2 L734.5 286.4 L739.3 295.4 L744.1 279.1 L748.9 270.1 L753.6 270.1 L758.4 271.1 L763.2 259.8 L768 253.5 L772.8 257.1 L777.5 267 L782.3 257.9 L787.1 264 L791.9 254.8 L796.6 237.4 L801.4 234.6" fill="none" stroke="#e2898e" stroke-width="1.8" stroke-linejoin="miter" stroke-miterlimit="10"/>
<path d="M84.6 277.7 L89.4 294 L94.1 309.5 L98.9 288.9 L103.7 291.2 L108.5 291.6 L113.3 291.6 L118 293.5 L122.8 308.1 L127.6 309 L132.4 309 L137.1 310.7 L141.9 300.4 L146.7 300.2 L151.5 254.9 L156.3 242.7 L161 239.4 L165.8 237.2 L170.6 252.8 L175.4 237.8 L180.2 242.9 L184.9 245.2 L189.7 229.8 L194.5 240.4 L199.3 213.8 L204.1 220.8 L208.8 215.7 L213.6 228.1 L218.4 223.7 L223.2 239.6 L227.9 255.2 L232.7 240.4 L237.5 257.2 L242.3 272.8 L247.1 272.9 L251.8 257.3 L256.6 272.5 L261.4 257.9 L266.2 257.8 L271 270.6 L275.7 289.7 L280.5 288.8 L285.3 281.9 L290.1 281.9 L294.9 324.1 L299.6 336.2 L304.4 337.5 L309.2 342.5 L314 342.8 L318.8 342.8 L323.5 335.3 L328.3 335.6 L333.1 370.9 L337.9 364.3 L342.6 368.1 L347.4 362.1 L352.2 364.6 L357 352.9 L361.8 360.6 L366.5 343.3 L371.3 332.8 L376.1 323.3 L380.9 307.7 L385.7 322.7 L390.4 322.1 L395.2 327.6 L400 310.9 L404.8 300.2 L409.6 289.3 L414.3 273.6 L419.1 248.5 L423.9 251.4 L428.7 258.6 L433.4 258.5 L438.2 225.4 L443 225.4 L447.8 232.4 L452.6 232 L457.3 213.6 L462.1 213.6 L466.9 239.2 L471.7 229.9 L476.5 213.4 L481.2 213.4 L486 220.2 L490.8 220.2 L495.6 224.3 L500.4 229.1 L505.1 229.2 L509.9 229.7 L514.7 240.8 L519.5 251.5 L524.2 249.1 L529 217.3 L533.8 236.7 L538.6 264.4 L543.4 281.1 L548.1 293.5 L552.9 302.9 L557.7 287.6 L562.5 314.4 L567.3 310.8 L572 337.3 L576.8 337.5 L581.6 354 L586.4 354.4 L591.2 352.5 L595.9 352.3 L600.7 390.7 L605.5 390.8 L610.3 372.8 L615 381.8 L619.8 399.5 L624.6 399.7 L629.4 402.2 L634.2 419 L638.9 417.4 L643.7 414.1 L648.5 414.1 L653.3 414 L658.1 410.3 L662.8 391.6 L667.6 391.6 L672.4 431.6 L677.2 399.2 L682 370.9 L686.7 366.2 L691.5 370.9 L696.3 379.5 L701.1 406.8 L705.8 393.3 L710.6 395 L715.4 380.4 L720.2 385.5 L725 399.7 L729.7 394.3 L734.5 411.2 L739.3 431.3 L744.1 400.9 L748.9 412.7 L753.6 412.7 L758.4 411.5 L763.2 374.6 L768 376.3 L772.8 377 L777.5 394.5 L782.3 383.2 L787.1 403.6 L791.9 388.8 L796.6 373.3 L801.4 375.5" fill="none" stroke="#e2898e" stroke-width="1.8" stroke-linejoin="miter" stroke-miterlimit="10"/>
<path d="M84.6 243.9 L89.4 259.1 L94.1 272.2 L98.9 249.8 L103.7 256 L108.5 256.4 L113.3 256.6 L118 259.1 L122.8 273 L127.6 273.7 L132.4 273.7 L137.1 271.2 L141.9 256.8 L146.7 256.3 L151.5 209 L156.3 195 L161 190.5 L165.8 189 L170.6 204.5 L175.4 189.5 L180.2 197.7 L184.9 199.9 L189.7 184.3 L194.5 196.7 L199.3 167.4 L204.1 178.2 L208.8 170.1 L213.6 180.9 L218.4 175.1 L223.2 191.9 L227.9 207.4 L232.7 194.3 L237.5 206.4 L242.3 222.1 L247.1 222.1 L251.8 206.3 L256.6 218.7 L261.4 201 L266.2 200.9 L271 211.7 L275.7 226.6 L280.5 222.6 L285.3 220 L290.1 220 L294.9 265.7 L299.6 277.4 L304.4 276 L309.2 282.9 L314 283.2 L318.8 283.2 L323.5 273.6 L328.3 271.8 L333.1 299.5 L337.9 293.6 L342.6 303.7 L347.4 293.5 L352.2 297.3 L357 293.5 L361.8 308.2 L366.5 293 L371.3 280 L376.1 267.4 L380.9 254.7 L385.7 269.7 L390.4 264.3 L395.2 272.7 L400 257.4 L404.8 242.9 L409.6 228.9 L414.3 216.9 L419.1 189.1 L423.9 195.8 L428.7 198.1 L433.4 197.8 L438.2 166.9 L443 166.9 L447.8 172.1 L452.6 178.3 L457.3 157.2 L462.1 157.2 L466.9 183.7 L471.7 171.7 L476.5 157.1 L481.2 157.1 L486 154.5 L490.8 154.5 L495.6 159.5 L500.4 168.6 L505.1 169 L509.9 169.2 L514.7 180.8 L519.5 195.9 L524.2 197.7 L529 166.1 L533.8 187.8 L538.6 206.8 L543.4 217.9 L548.1 230.3 L552.9 243.2 L557.7 228.4 L562.5 253.4 L567.3 249.7 L572 268.4 L576.8 269 L581.6 285.1 L586.4 285.7 L591.2 287.4 L595.9 283.6 L600.7 317.3 L605.5 317.3 L610.3 303.8 L615 315.3 L619.8 324.3 L624.6 324.6 L629.4 327.1 L634.2 343.1 L638.9 339.3 L643.7 336.8 L648.5 336.5 L653.3 336.7 L658.1 336.6 L662.8 319.9 L667.6 319.9 L672.4 349.5 L677.2 319.7 L682 303.2 L686.7 300.9 L691.5 308.2 L696.3 315.6 L701.1 339.1 L705.8 327.4 L710.6 328.6 L715.4 324.8 L720.2 329.3 L725 338.7 L729.7 332.3 L734.5 348.8 L739.3 363.3 L744.1 340 L748.9 341.4 L753.6 341.4 L758.4 341.3 L763.2 317.2 L768 314.9 L772.8 317 L777.5 330.8 L782.3 320.5 L787.1 333.8 L791.9 321.8 L796.6 305.3 L801.4 305.1" fill="none" stroke="#e2898e" stroke-width="3.6" stroke-linejoin="miter" stroke-miterlimit="10"/>
<path d="M79.5 61.6V495 M71.4 487H801.6" fill="none" stroke="#000" stroke-width="1.9"/>
<line x1="71.4" x2="79.5" y1="62.5" y2="62.5" stroke="#000" stroke-width="1.9"/>
<line x1="71.4" x2="79.5" y1="147.4" y2="147.4" stroke="#000" stroke-width="1.9"/>
<line x1="71.4" x2="79.5" y1="232.3" y2="232.3" stroke="#000" stroke-width="1.9"/>
<line x1="71.4" x2="79.5" y1="317.2" y2="317.2" stroke="#000" stroke-width="1.9"/>
<line x1="71.4" x2="79.5" y1="402.1" y2="402.1" stroke="#000" stroke-width="1.9"/>
<line x1="199.3" x2="199.3" y1="487" y2="495" stroke="#000" stroke-width="1.9"/>
<line x1="318.8" x2="318.8" y1="487" y2="495" stroke="#000" stroke-width="1.9"/>
<line x1="438.2" x2="438.2" y1="487" y2="495" stroke="#000" stroke-width="1.9"/>
<line x1="557.7" x2="557.7" y1="487" y2="495" stroke="#000" stroke-width="1.9"/>
<line x1="677.2" x2="677.2" y1="487" y2="495" stroke="#000" stroke-width="1.9"/>
<line x1="796.6" x2="796.6" y1="487" y2="495" stroke="#000" stroke-width="1.9"/>
<text class="s" x="64" y="70.1" font-size="23.4" text-anchor="end" textLength="27" lengthAdjust="spacingAndGlyphs">45</text>
<text class="s" x="64" y="155" font-size="23.4" text-anchor="end" textLength="27" lengthAdjust="spacingAndGlyphs">40</text>
<text class="s" x="64" y="239.9" font-size="23.4" text-anchor="end" textLength="27" lengthAdjust="spacingAndGlyphs">35</text>
<text class="s" x="64" y="324.8" font-size="23.4" text-anchor="end" textLength="27" lengthAdjust="spacingAndGlyphs">30</text>
<text class="s" x="64" y="409.7" font-size="23.4" text-anchor="end" textLength="27" lengthAdjust="spacingAndGlyphs">25</text>
<text class="s" x="64" y="494.6" font-size="23.4" text-anchor="end" textLength="27" lengthAdjust="spacingAndGlyphs">20</text>
<text class="s" x="79.6" y="525.7" font-size="23.4" text-anchor="middle" textLength="13" lengthAdjust="spacingAndGlyphs">0</text>
<text class="s" x="199.1" y="525.7" font-size="23.4" text-anchor="middle" textLength="26.5" lengthAdjust="spacingAndGlyphs">25</text>
<text class="s" x="318.6" y="525.7" font-size="23.4" text-anchor="middle" textLength="26.5" lengthAdjust="spacingAndGlyphs">50</text>
<text class="s" x="438" y="525.7" font-size="23.4" text-anchor="middle" textLength="26.5" lengthAdjust="spacingAndGlyphs">75</text>
<text class="s" x="557.5" y="525.7" font-size="23.4" text-anchor="middle" textLength="39.5" lengthAdjust="spacingAndGlyphs">100</text>
<text class="s" x="677" y="525.7" font-size="23.4" text-anchor="middle" textLength="39.5" lengthAdjust="spacingAndGlyphs">125</text>
<text class="s" x="796.4" y="525.7" font-size="23.4" text-anchor="middle" textLength="39.5" lengthAdjust="spacingAndGlyphs">150</text>
<text class="l" x="310.6" y="561.4" font-size="28.8" textLength="259" lengthAdjust="spacingAndGlyphs">Number of Windows</text>
<text class="l" transform="translate(26.9 420.8) rotate(-90)" font-size="28.8" textLength="292.5" lengthAdjust="spacingAndGlyphs">Concrete Nouns Count</text>
<line x1="104.4" x2="158.7" y1="449.5" y2="449.5" stroke="#e2898e" stroke-width="4"/>
<text class="s" x="162" y="457" font-size="23.2" textLength="89.5" lengthAdjust="spacingAndGlyphs">Average</text>
<rect x="260.2" y="436.8" width="49.9" height="25.1" fill="#e2898e"/>
<text class="s" x="315" y="457" font-size="23.2" textLength="205.5" lengthAdjust="spacingAndGlyphs">Standard Deviation</text>
<line x1="528" x2="579.6" y1="449.3" y2="449.3" stroke="#cfcfcf" stroke-width="1.5"/>
<text class="s" x="583.5" y="457" font-size="23.2" textLength="153" lengthAdjust="spacingAndGlyphs">Single Subject</text>
<text class="b" x="2.3" y="26" font-size="32.5" textLength="26.5" lengthAdjust="spacingAndGlyphs">A</text>
</g>
<g id="panelB">
<text class="b" x="914.6" y="26.1" font-size="32.5" textLength="21.4" lengthAdjust="spacingAndGlyphs">B</text>
<circle cx="1234.2" cy="265.2" r="8.9" fill="#00008f" stroke="#9a9a9a" stroke-width="1"/>
<circle cx="1210.2" cy="282.2" r="8.9" fill="#0000af" stroke="#9a9a9a" stroke-width="1"/>
<circle cx="1186.2" cy="282.2" r="8.9" fill="#0000af" stroke="#9a9a9a" stroke-width="1"/>
<circle cx="1186.2" cy="306" r="8.9" fill="#0000cf" stroke="#9a9a9a" stroke-width="1"/>
<circle cx="1282.2" cy="216" r="8.9" fill="#0000ef" stroke="#9a9a9a" stroke-width="1"/>
<circle cx="1306.2" cy="183.5" r="8.9" fill="#0000ff" stroke="#9a9a9a" stroke-width="1"/>
<circle cx="1306.2" cy="210.7" r="8.9" fill="#0010ff" stroke="#9a9a9a" stroke-width="1"/>
<circle cx="1330.2" cy="203.9" r="8.9" fill="#0020ff" stroke="#9a9a9a" stroke-width="1"/>
<circle cx="1330.2" cy="152.9" r="8.9" fill="#0030ff" stroke="#9a9a9a" stroke-width="1"/>
<circle cx="1306.2" cy="174.8" r="8.9" fill="#0040ff" stroke="#9a9a9a" stroke-width="1"/>
<circle cx="1330.2" cy="159.7" r="8.9" fill="#0040ff" stroke="#9a9a9a" stroke-width="1"/>
<circle cx="1330.2" cy="176.7" r="8.9" fill="#0040ff" stroke="#9a9a9a" stroke-width="1"/>
<circle cx="1330.2" cy="166.5" r="8.9" fill="#0050ff" stroke="#9a9a9a" stroke-width="1"/>
<circle cx="1330.2" cy="190.3" r="8.9" fill="#0050ff" stroke="#9a9a9a" stroke-width="1"/>
<circle cx="1282.2" cy="214.1" r="8.9" fill="#0060ff" stroke="#9a9a9a" stroke-width="1"/>
<circle cx="1306.2" cy="190.3" r="8.9" fill="#0060ff" stroke="#9a9a9a" stroke-width="1"/>
<circle cx="1282.2" cy="212" r="8.9" fill="#0070ff" stroke="#9a9a9a" stroke-width="1"/>
<circle cx="1282.2" cy="210.7" r="8.9" fill="#0080ff" stroke="#9a9a9a" stroke-width="1"/>
<circle cx="1306.2" cy="203.9" r="8.9" fill="#008fff" stroke="#9a9a9a" stroke-width="1"/>
<circle cx="1306.2" cy="219.3" r="8.9" fill="#009fff" stroke="#9a9a9a" stroke-width="1"/>
<circle cx="1282.2" cy="241.4" r="8.9" fill="#009fff" stroke="#9a9a9a" stroke-width="1"/>
<circle cx="1282.2" cy="234.6" r="8.9" fill="#009fff" stroke="#9a9a9a" stroke-width="1"/>
<circle cx="1306.2" cy="231.2" r="8.9" fill="#00afff" stroke="#9a9a9a" stroke-width="1"/>
<circle cx="1234.2" cy="292.4" r="8.9" fill="#00bfff" stroke="#9a9a9a" stroke-width="1"/>
<circle cx="1234.2" cy="312.8" r="8.9" fill="#00bfff" stroke="#9a9a9a" stroke-width="1"/>
<circle cx="1258.2" cy="309.4" r="8.9" fill="#00cfff" stroke="#9a9a9a" stroke-width="1"/>
<circle cx="1234.2" cy="319.7" r="8.9" fill="#00cfff" stroke="#9a9a9a" stroke-width="1"/>
<circle cx="1210.2" cy="319.7" r="8.9" fill="#00dfff" stroke="#9a9a9a" stroke-width="1"/>
<circle cx="1234.2" cy="306" r="8.9" fill="#00dfff" stroke="#9a9a9a" stroke-width="1"/>
<circle cx="1210.2" cy="343.5" r="8.9" fill="#00efff" stroke="#9a9a9a" stroke-width="1"/>
<circle cx="1186.2" cy="350.3" r="8.9" fill="#00ffff" stroke="#9a9a9a" stroke-width="1"/>
<circle cx="1210.2" cy="333.3" r="8.9" fill="#00ffff" stroke="#9a9a9a" stroke-width="1"/>
<circle cx="1186.2" cy="340.1" r="8.9" fill="#10ffef" stroke="#9a9a9a" stroke-width="1"/>
<circle cx="1186.2" cy="333.3" r="8.9" fill="#10ffef" stroke="#9a9a9a" stroke-width="1"/>
<circle cx="1162.2" cy="357.1" r="8.9" fill="#20ffdf" stroke="#9a9a9a" stroke-width="1"/>
<circle cx="1162.2" cy="336.7" r="8.9" fill="#20ffdf" stroke="#9a9a9a" stroke-width="1"/>
<circle cx="1186.2" cy="316.2" r="8.9" fill="#30ffcf" stroke="#9a9a9a" stroke-width="1"/>
<circle cx="1210.2" cy="299.2" r="8.9" fill="#30ffcf" stroke="#9a9a9a" stroke-width="1"/>
<circle cx="1186.2" cy="302.6" r="8.9" fill="#40ffbf" stroke="#9a9a9a" stroke-width="1"/>
<circle cx="1210.2" cy="290.8" r="8.9" fill="#40ffbf" stroke="#9a9a9a" stroke-width="1"/>
<circle cx="1210.2" cy="306" r="8.9" fill="#50ffaf" stroke="#9a9a9a" stroke-width="1"/>
<circle cx="1186.2" cy="285.6" r="8.9" fill="#50ffaf" stroke="#9a9a9a" stroke-width="1"/>
<circle cx="1282.2" cy="186.9" r="8.9" fill="#70ff8f" stroke="#9a9a9a" stroke-width="1"/>
<circle cx="1234.2" cy="200.5" r="8.9" fill="#80ff80" stroke="#9a9a9a" stroke-width="1"/>
<circle cx="1282.2" cy="156.3" r="8.9" fill="#8fff70" stroke="#9a9a9a" stroke-width="1"/>
<circle cx="1258.2" cy="156.3" r="8.9" fill="#8fff70" stroke="#9a9a9a" stroke-width="1"/>
<circle cx="1258.2" cy="163.1" r="8.9" fill="#8fff70" stroke="#9a9a9a" stroke-width="1"/>
<circle cx="1258.2" cy="173.3" r="8.9" fill="#9fff60" stroke="#9a9a9a" stroke-width="1"/>
<circle cx="1282.2" cy="163.1" r="8.9" fill="#afff50" stroke="#9a9a9a" stroke-width="1"/>
<circle cx="1282.2" cy="142.7" r="8.9" fill="#bfff40" stroke="#9a9a9a" stroke-width="1"/>
<circle cx="1330.2" cy="139.3" r="8.9" fill="#cfff30" stroke="#9a9a9a" stroke-width="1"/>
<circle cx="1306.2" cy="139.3" r="8.9" fill="#cfff30" stroke="#9a9a9a" stroke-width="1"/>
<circle cx="1306.2" cy="146.1" r="8.9" fill="#dfff20" stroke="#9a9a9a" stroke-width="1"/>
<circle cx="1282.2" cy="159.7" r="8.9" fill="#efff10" stroke="#9a9a9a" stroke-width="1"/>
<circle cx="1282.2" cy="176.7" r="8.9" fill="#efff10" stroke="#9a9a9a" stroke-width="1"/>
<circle cx="1258.2" cy="197.1" r="8.9" fill="#ffff00" stroke="#9a9a9a" stroke-width="1"/>
<circle cx="1258.2" cy="200.5" r="8.9" fill="#ffff00" stroke="#9a9a9a" stroke-width="1"/>
<circle cx="1306.2" cy="152.9" r="8.9" fill="#ffef00" stroke="#9a9a9a" stroke-width="1"/>
<circle cx="1258.2" cy="183.5" r="8.9" fill="#ffef00" stroke="#9a9a9a" stroke-width="1"/>
<circle cx="1234.2" cy="210.7" r="8.9" fill="#ffef00" stroke="#9a9a9a" stroke-width="1"/>
<circle cx="1234.2" cy="227.8" r="8.9" fill="#ffdf00" stroke="#9a9a9a" stroke-width="1"/>
<circle cx="1234.2" cy="244.8" r="8.9" fill="#ffdf00" stroke="#9a9a9a" stroke-width="1"/>
<circle cx="1210.2" cy="265.2" r="8.9" fill="#ffcf00" stroke="#9a9a9a" stroke-width="1"/>
<circle cx="1234.2" cy="241.4" r="8.9" fill="#ffcf00" stroke="#9a9a9a" stroke-width="1"/>
<circle cx="1210.2" cy="278.8" r="8.9" fill="#ffbf00" stroke="#9a9a9a" stroke-width="1"/>
<circle cx="1210.2" cy="272" r="8.9" fill="#ffbf00" stroke="#9a9a9a" stroke-width="1"/>
<circle cx="1186.2" cy="297.8" r="8.9" fill="#ffaf00" stroke="#9a9a9a" stroke-width="1"/>
<circle cx="1162.2" cy="323.1" r="8.9" fill="#ff9f00" stroke="#9a9a9a" stroke-width="1"/>
<circle cx="1138.2" cy="326.5" r="8.9" fill="#ff9f00" stroke="#9a9a9a" stroke-width="1"/>
<circle cx="1138.2" cy="319.7" r="8.9" fill="#ff8f00" stroke="#9a9a9a" stroke-width="1"/>
<circle cx="1090.2" cy="345.4" r="8.9" fill="#ff8000" stroke="#9a9a9a" stroke-width="1"/>
<circle cx="1066.2" cy="363.9" r="8.9" fill="#ff8000" stroke="#9a9a9a" stroke-width="1"/>
<circle cx="1042.2" cy="374.1" r="8.9" fill="#ff7000" stroke="#9a9a9a" stroke-width="1"/>
<circle cx="1042.2" cy="377.5" r="8.9" fill="#ff7000" stroke="#9a9a9a" stroke-width="1"/>
<circle cx="1042.2" cy="406.2" r="8.9" fill="#ff6000" stroke="#9a9a9a" stroke-width="1"/>
<circle cx="1042.2" cy="391.1" r="8.9" fill="#ff5000" stroke="#9a9a9a" stroke-width="1"/>
<circle cx="1066.2" cy="370.7" r="8.9" fill="#ff3000" stroke="#9a9a9a" stroke-width="1"/>
<circle cx="1018.2" cy="411.5" r="8.9" fill="#ff3000" stroke="#9a9a9a" stroke-width="1"/>
<circle cx="1090.2" cy="367.3" r="8.9" fill="#ff2000" stroke="#9a9a9a" stroke-width="1"/>
<circle cx="1114.2" cy="346.9" r="8.9" fill="#ff2000" stroke="#9a9a9a" stroke-width="1"/>
<circle cx="1138.2" cy="343.5" r="8.9" fill="#ff1000" stroke="#9a9a9a" stroke-width="1"/>
<circle cx="1090.2" cy="352.1" r="8.9" fill="#ff1000" stroke="#9a9a9a" stroke-width="1"/>
<circle cx="1090.2" cy="363.9" r="8.9" fill="#ff0000" stroke="#9a9a9a" stroke-width="1"/>
<circle cx="1042.2" cy="397.9" r="8.9" fill="#ff0000" stroke="#9a9a9a" stroke-width="1"/>
<circle cx="1066.2" cy="384.3" r="8.9" fill="#ef0000" stroke="#9a9a9a" stroke-width="1"/>
<circle cx="1066.2" cy="377.5" r="8.9" fill="#ef0000" stroke="#9a9a9a" stroke-width="1"/>
<circle cx="1090.2" cy="384.3" r="8.9" fill="#df0000" stroke="#9a9a9a" stroke-width="1"/>
<circle cx="1066.2" cy="396.6" r="8.9" fill="#df0000" stroke="#9a9a9a" stroke-width="1"/>
<circle cx="1090.2" cy="387.7" r="8.9" fill="#cf0000" stroke="#9a9a9a" stroke-width="1"/>
<circle cx="1066.2" cy="411.5" r="8.9" fill="#cf0000" stroke="#9a9a9a" stroke-width="1"/>
<circle cx="1042.2" cy="432" r="8.9" fill="#cf0000" stroke="#9a9a9a" stroke-width="1"/>
<circle cx="1090.2" cy="397.9" r="8.9" fill="#bf0000" stroke="#9a9a9a" stroke-width="1"/>
<circle cx="1114.2" cy="401.3" r="8.9" fill="#bf0000" stroke="#9a9a9a" stroke-width="1"/>
<circle cx="1138.2" cy="401.3" r="8.9" fill="#af0000" stroke="#9a9a9a" stroke-width="1"/>
<circle cx="1162.2" cy="363.9" r="8.9" fill="#9f0000" stroke="#9a9a9a" stroke-width="1"/>
<circle cx="1162.2" cy="367.3" r="8.9" fill="#9f0000" stroke="#9a9a9a" stroke-width="1"/>
<circle cx="1138.2" cy="385.7" r="8.9" fill="#8f0000" stroke="#9a9a9a" stroke-width="1"/>
<circle cx="1138.2" cy="370.7" r="8.9" fill="#8f0000" stroke="#9a9a9a" stroke-width="1"/>
<circle cx="1138.2" cy="391.1" r="8.9" fill="#800000" stroke="#9a9a9a" stroke-width="1"/>
<circle cx="1162.2" cy="374.1" r="8.9" fill="#800000" stroke="#9a9a9a" stroke-width="1"/>
<circle cx="1210.2" cy="350.3" r="8.9" fill="#800000" stroke="#9a9a9a" stroke-width="1"/>
<line x1="994.2" y1="466" x2="1378.4" y2="128.5" stroke="#8a8a8a" stroke-width="1.6" stroke-dasharray="7.8 6.57"/>
<path d="M994.2 81V470.6 M994.2 466H1378.4" fill="none" stroke="#2a2a2a" stroke-width="1.4"/>
<line x1="989.5" x2="994.2" y1="81.4" y2="81.4" stroke="#2a2a2a" stroke-width="1.4"/>
<line x1="989.5" x2="994.2" y1="176.7" y2="176.7" stroke="#2a2a2a" stroke-width="1.4"/>
<line x1="989.5" x2="994.2" y1="272" y2="272" stroke="#2a2a2a" stroke-width="1.4"/>
<line x1="989.5" x2="994.2" y1="367.3" y2="367.3" stroke="#2a2a2a" stroke-width="1.4"/>
<line x1="989.5" x2="994.2" y1="462.6" y2="462.6" stroke="#2a2a2a" stroke-width="1.4"/>
<line x1="1090.2" x2="1090.2" y1="466" y2="470.6" stroke="#2a2a2a" stroke-width="1.4"/>
<line x1="1186.2" x2="1186.2" y1="466" y2="470.6" stroke="#2a2a2a" stroke-width="1.4"/>
<line x1="1282.2" x2="1282.2" y1="466" y2="470.6" stroke="#2a2a2a" stroke-width="1.4"/>
<line x1="1378.2" x2="1378.2" y1="466" y2="470.6" stroke="#2a2a2a" stroke-width="1.4"/>
<text x="980.3" y="92.3" font-size="34.2" text-anchor="end" textLength="37" lengthAdjust="spacingAndGlyphs">42</text>
<text x="980.3" y="187.6" font-size="34.2" text-anchor="end" textLength="37" lengthAdjust="spacingAndGlyphs">38</text>
<text x="980.3" y="282.9" font-size="34.2" text-anchor="end" textLength="37" lengthAdjust="spacingAndGlyphs">34</text>
<text x="980.3" y="378.2" font-size="34.2" text-anchor="end" textLength="37" lengthAdjust="spacingAndGlyphs">30</text>
<text x="980.3" y="473.5" font-size="34.2" text-anchor="end" textLength="37" lengthAdjust="spacingAndGlyphs">26</text>
<text x="994.2" y="511.9" font-size="34.2" text-anchor="middle" textLength="37" lengthAdjust="spacingAndGlyphs">30</text>
<text x="1090.2" y="511.9" font-size="34.2" text-anchor="middle" textLength="37" lengthAdjust="spacingAndGlyphs">34</text>
<text x="1186.2" y="511.9" font-size="34.2" text-anchor="middle" textLength="37" lengthAdjust="spacingAndGlyphs">38</text>
<text x="1282.2" y="511.9" font-size="34.2" text-anchor="middle" textLength="37" lengthAdjust="spacingAndGlyphs">42</text>
<text x="1378.2" y="511.9" font-size="34.2" text-anchor="middle" textLength="37" lengthAdjust="spacingAndGlyphs">46</text>
<text class="l" x="1036.4" y="559" font-size="38" textLength="298.5" lengthAdjust="spacingAndGlyphs">Number of Nouns</text>
<text class="l" transform="translate(933 465.8) rotate(-90)" font-size="38" textLength="384" lengthAdjust="spacingAndGlyphs">Concrete Nouns Count</text>
<text x="1018.5" y="141" font-size="36" textLength="127.5" lengthAdjust="spacingAndGlyphs"><tspan font-style="italic">ρ</tspan> = .913</text>
<text x="1017.5" y="183.1" font-size="36" textLength="166.5" lengthAdjust="spacingAndGlyphs">p = .0002*</text>
<rect x="1409.3" y="458.2" width="25.7" height="6.4" fill="#00008f"/>
<rect x="1409.3" y="452.2" width="25.7" height="6.4" fill="#00009f"/>
<rect x="1409.3" y="446.2" width="25.7" height="6.4" fill="#0000af"/>
<rect x="1409.3" y="440.2" width="25.7" height="6.4" fill="#0000bf"/>
<rect x="1409.3" y="434.2" width="25.7" height="6.4" fill="#0000cf"/>
<rect x="1409.3" y="428.2" width="25.7" height="6.4" fill="#0000df"/>
<rect x="1409.3" y="422.2" width="25.7" height="6.4" fill="#0000ef"/>
<rect x="1409.3" y="416.2" width="25.7" height="6.4" fill="#0000ff"/>
<rect x="1409.3" y="410.3" width="25.7" height="6.4" fill="#0010ff"/>
<rect x="1409.3" y="404.3" width="25.7" height="6.4" fill="#0020ff"/>
<rect x="1409.3" y="398.3" width="25.7" height="6.4" fill="#0030ff"/>
<rect x="1409.3" y="392.3" width="25.7" height="6.4" fill="#0040ff"/>
<rect x="1409.3" y="386.3" width="25.7" height="6.4" fill="#0050ff"/>
<rect x="1409.3" y="380.3" width="25.7" height="6.4" fill="#0060ff"/>
<rect x="1409.3" y="374.3" width="25.7" height="6.4" fill="#0070ff"/>
<rect x="1409.3" y="368.3" width="25.7" height="6.4" fill="#0080ff"/>
<rect x="1409.3" y="362.3" width="25.7" height="6.4" fill="#008fff"/>
<rect x="1409.3" y="356.3" width="25.7" height="6.4" fill="#009fff"/>
<rect x="1409.3" y="350.3" width="25.7" height="6.4" fill="#00afff"/>
<rect x="1409.3" y="344.3" width="25.7" height="6.4" fill="#00bfff"/>
<rect x="1409.3" y="338.3" width="25.7" height="6.4" fill="#00cfff"/>
<rect x="1409.3" y="332.3" width="25.7" height="6.4" fill="#00dfff"/>
<rect x="1409.3" y="326.3" width="25.7" height="6.4" fill="#00efff"/>
<rect x="1409.3" y="320.3" width="25.7" height="6.4" fill="#00ffff"/>
<rect x="1409.3" y="314.4" width="25.7" height="6.4" fill="#10ffef"/>
<rect x="1409.3" y="308.4" width="25.7" height="6.4" fill="#20ffdf"/>
<rect x="1409.3" y="302.4" width="25.7" height="6.4" fill="#30ffcf"/>
<rect x="1409.3" y="296.4" width="25.7" height="6.4" fill="#40ffbf"/>
<rect x="1409.3" y="290.4" width="25.7" height="6.4" fill="#50ffaf"/>
<rect x="1409.3" y="284.4" width="25.7" height="6.4" fill="#60ff9f"/>
<rect x="1409.3" y="278.4" width="25.7" height="6.4" fill="#70ff8f"/>
<rect x="1409.3" y="272.4" width="25.7" height="6.4" fill="#80ff80"/>
<rect x="1409.3" y="266.4" width="25.7" height="6.4" fill="#8fff70"/>
<rect x="1409.3" y="260.4" width="25.7" height="6.4" fill="#9fff60"/>
<rect x="1409.3" y="254.4" width="25.7" height="6.4" fill="#afff50"/>
<rect x="1409.3" y="248.4" width="25.7" height="6.4" fill="#bfff40"/>
<rect x="1409.3" y="242.4" width="25.7" height="6.4" fill="#cfff30"/>
<rect x="1409.3" y="236.4" width="25.7" height="6.4" fill="#dfff20"/>
<rect x="1409.3" y="230.4" width="25.7" height="6.4" fill="#efff10"/>
<rect x="1409.3" y="224.4" width="25.7" height="6.4" fill="#ffff00"/>
<rect x="1409.3" y="218.5" width="25.7" height="6.4" fill="#ffef00"/>
<rect x="1409.3" y="212.5" width="25.7" height="6.4" fill="#ffdf00"/>
<rect x="1409.3" y="206.5" width="25.7" height="6.4" fill="#ffcf00"/>
<rect x="1409.3" y="200.5" width="25.7" height="6.4" fill="#ffbf00"/>
<rect x="1409.3" y="194.5" width="25.7" height="6.4" fill="#ffaf00"/>
<rect x="1409.3" y="188.5" width="25.7" height="6.4" fill="#ff9f00"/>
<rect x="1409.3" y="182.5" width="25.7" height="6.4" fill="#ff8f00"/>
<rect x="1409.3" y="176.5" width="25.7" height="6.4" fill="#ff8000"/>
<rect x="1409.3" y="170.5" width="25.7" height="6.4" fill="#ff7000"/>
<rect x="1409.3" y="164.5" width="25.7" height="6.4" fill="#ff6000"/>
<rect x="1409.3" y="158.5" width="25.7" height="6.4" fill="#ff5000"/>
<rect x="1409.3" y="152.5" width="25.7" height="6.4" fill="#ff4000"/>
<rect x="1409.3" y="146.5" width="25.7" height="6.4" fill="#ff3000"/>
<rect x="1409.3" y="140.5" width="25.7" height="6.4" fill="#ff2000"/>
<rect x="1409.3" y="134.5" width="25.7" height="6.4" fill="#ff1000"/>
<rect x="1409.3" y="128.5" width="25.7" height="6.4" fill="#ff0000"/>
<rect x="1409.3" y="122.6" width="25.7" height="6.4" fill="#ef0000"/>
<rect x="1409.3" y="116.6" width="25.7" height="6.4" fill="#df0000"/>
<rect x="1409.3" y="110.6" width="25.7" height="6.4" fill="#cf0000"/>
<rect x="1409.3" y="104.6" width="25.7" height="6.4" fill="#bf0000"/>
<rect x="1409.3" y="98.6" width="25.7" height="6.4" fill="#af0000"/>
<rect x="1409.3" y="92.6" width="25.7" height="6.4" fill="#9f0000"/>
<rect x="1409.3" y="86.6" width="25.7" height="6.4" fill="#8f0000"/>
<rect x="1409.3" y="80.6" width="25.7" height="6.4" fill="#800000"/>
<rect x="1409.3" y="80.6" width="25.7" height="383.6" fill="none" stroke="#1a1a1a" stroke-width="1"/>
<text x="1443.4" y="474.4" font-size="31.5" textLength="16.5" lengthAdjust="spacingAndGlyphs">0</text>
<line x1="1430" x2="1435" y1="336.5" y2="336.5" stroke="#222" stroke-width="1"/>
<text x="1443.4" y="346.7" font-size="31.5" textLength="34.0" lengthAdjust="spacingAndGlyphs">50</text>
<line x1="1430" x2="1435" y1="208.7" y2="208.7" stroke="#222" stroke-width="1"/>
<text x="1443.4" y="218.9" font-size="31.5" textLength="51.5" lengthAdjust="spacingAndGlyphs">100</text>
<text x="1443.4" y="91.2" font-size="31.5" textLength="51.5" lengthAdjust="spacingAndGlyphs">150</text>
<text class="l" transform="translate(1532.4 412.8) rotate(-90)" font-size="38" textLength="281.5" lengthAdjust="spacingAndGlyphs">Window Number</text>
</g>
</svg>
</body></html>
